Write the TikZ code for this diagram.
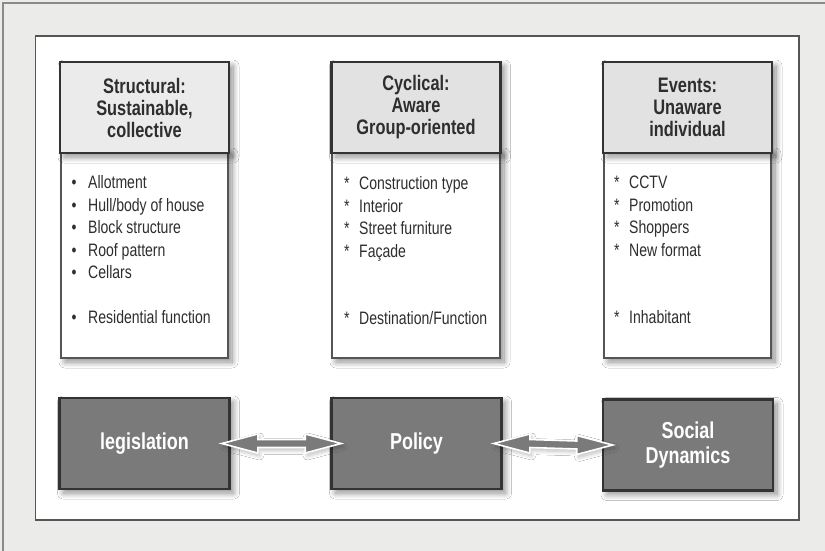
\documentclass[tikz,border=0pt]{standalone}
\usepackage{fontspec}
\setmainfont{Liberation Sans}[FakeStretch=0.78]
\usetikzlibrary{calc,shadows.blur}

\definecolor{pagebg}{HTML}{EBEBE9}
\definecolor{frameline}{HTML}{8A8A8A}
\definecolor{panelline}{HTML}{555555}
\definecolor{darkline}{HTML}{333333}
\definecolor{headfillA}{HTML}{EBEBEB}
\definecolor{headfillB}{HTML}{E2E2E2}
\definecolor{actfill}{HTML}{7A7A7A}
\definecolor{inktext}{HTML}{2E2E2E}

\tikzset{
  softshadow/.style={blur shadow={shadow xshift=4pt, shadow yshift=-4pt,
      shadow blur radius=6pt, shadow blur steps=12, shadow opacity=45}},
  headbox/.style={draw=darkline, line width=2.6pt, minimum width=169pt,
      minimum height=91pt, inner sep=0pt, softshadow,
      font=\fontsize{21}{22}\selectfont\bfseries, text=inktext,
      align=center, text width=160pt},
  listbox/.style={draw=panelline, line width=1.1pt, fill=white, softshadow},
  actbox/.style={draw=darkline, line width=2.6pt, fill=actfill,
      minimum width=170pt, minimum height=91pt, inner sep=0pt, softshadow,
      font=\fontsize{23}{25.5}\selectfont\bfseries, text=white, align=center},
  entry/.style={anchor=base west, inner sep=0pt, text=inktext,
      font=\fontsize{18}{22.5}\selectfont},
  linkarrow/.style={fill=actfill, draw=white, line width=1.6pt,
      line join=miter,
      blur shadow={shadow xshift=2pt, shadow yshift=-3pt,
      shadow blur radius=4pt, shadow blur steps=10, shadow opacity=25}},
}

\begin{document}
\begin{tikzpicture}[x=1pt,y=-1pt]
  \useasboundingbox (0,0) rectangle (825,551);
  % page background and its frame
  \fill[pagebg] (0,0) rectangle (825,551);
  \draw[frameline, line width=2pt] (3,551) -- (3,3) -- (825,3);
  % white panel
  \draw[panelline, fill=white, line width=1.2pt] (35.5,36) rectangle (799,520);

  % list panels under the three headers
  \draw[listbox] (61,150) rectangle (228,358);
  \draw[listbox] (332,150) rectangle (500,358);
  \draw[listbox] (604,150) rectangle (771,358);

  % header boxes
  \node[headbox, fill=headfillA] (structural) at (144.5,107.5)
    {Structural:\\Sustainable,\\collective};
  \node[headbox, fill=headfillB] (cyclical) at (416,107.5)
    {Cyclical:\\Aware\\Group-oriented};
  \node[headbox, fill=headfillB] (events) at (687.5,107.5)
    {Events:\\Unaware\\individual};

  % list entries
  \foreach \yy/\tt [count=\i] in {188.5/Allotment, 211/{Hull/body of house},
      233.5/Block structure, 256/Roof pattern, 278.5/Cellars,
      323.5/Residential function}
    \node[entry] (s\i) at (71.5,\yy) {\makebox[16.5pt][l]{•}\tt};
  \foreach \yy/\tt [count=\i] in {189.5/Construction type, 212/Interior,
      234.5/Street furniture, 257/Façade, 324.5/{Destination/Function}}
    \node[entry] (c\i) at (344,\yy) {\makebox[15pt][l]{*}\tt};
  \foreach \yy/\tt [count=\i] in {188.5/CCTV, 211/Promotion, 233.5/Shoppers,
      256/New format, 323.5/Inhabitant}
    \node[entry] (e\i) at (614,\yy) {\makebox[15pt][l]{*}\tt};

  % bottom row
  \node[actbox] (legislation) at (144.5,443.5) {legislation};
  \node[actbox] (policy) at (416.5,443.5) {Policy};
  \node[actbox] (social) at (688,445) {Social\\Dynamics};

  % double-headed block arrows between the bottom boxes
  \foreach \from/\to in {legislation/policy, policy/social} {
    \coordinate (p) at ($(\from.east)+(-9,0)$);
    \coordinate (q) at ($(\to.west)+(11,0)$);
    \filldraw[linkarrow] (p) -- ($(p)+(36,-9.5)$) -- ($(p)+(36,-4)$)
      -- ($(q)+(-36,-4)$) -- ($(q)+(-36,-9.5)$) -- (q)
      -- ($(q)+(-36,9.5)$) -- ($(q)+(-36,4)$) -- ($(p)+(36,4)$)
      -- ($(p)+(36,9.5)$) -- cycle;
  }
\end{tikzpicture}
\end{document}
